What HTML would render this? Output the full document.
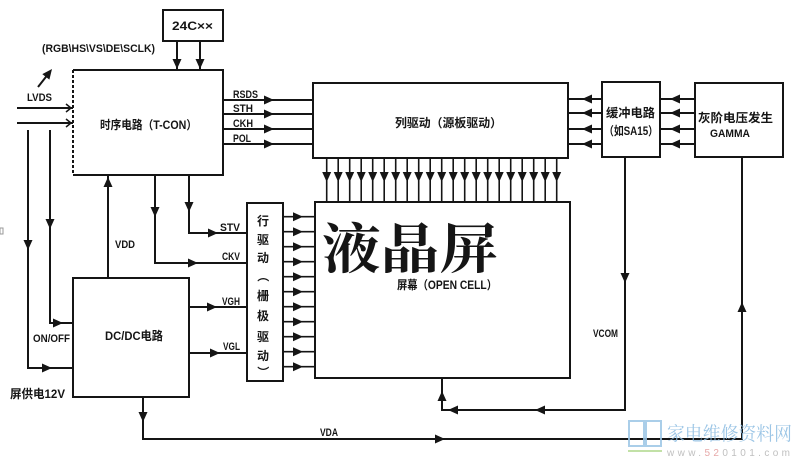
<!DOCTYPE html>
<html><head><meta charset="utf-8"><style>
html,body{margin:0;padding:0;background:#fff;}
svg{display:block;}
text{font-family:"Liberation Sans","Noto Sans CJK SC",sans-serif;fill:#151515;}
.l{font-size:11px;font-weight:bold;}
.c{font-family:"Liberation Sans","Noto Sans CJK SC",sans-serif;font-size:12px;font-weight:bold;}
</style></head><body>
<svg width="800" height="462" viewBox="0 0 800 462" xmlns="http://www.w3.org/2000/svg">
<defs>
<path id="ar" d="M-10,-4.5 L0,0 L-10,4.5 Z" fill="#151515"/>
</defs>
<g stroke="#151515" stroke-width="2" fill="none">
<!-- 24CXX box -->
<rect x="163" y="10" width="60" height="31"/>
<line x1="177" y1="41" x2="177" y2="70"/>
<line x1="200" y1="41" x2="200" y2="70"/>
<!-- T-CON -->
<path d="M73,70 H223 V175 H73"/>
<line x1="73" y1="70" x2="73" y2="175" stroke-dasharray="3,2"/>
<!-- LVDS -->
<line x1="17" y1="108" x2="73" y2="108"/>
<line x1="17" y1="123" x2="73" y2="123"/>
<path d="M66,104 L71,108 L66,112" stroke-width="1.5"/>
<path d="M66,119 L71,123 L66,127" stroke-width="1.5"/>
<line x1="38" y1="87" x2="49" y2="73"/>
<!-- left verticals -->
<path d="M28,130 V368 H73"/>
<path d="M50,130 V323 H73"/>
<!-- outputs RSDS etc -->
<line x1="223" y1="100" x2="313" y2="100"/>
<line x1="223" y1="114" x2="313" y2="114"/>
<line x1="223" y1="129" x2="313" y2="129"/>
<line x1="223" y1="144" x2="313" y2="144"/>
<!-- column driver -->
<rect x="313" y="83" width="255" height="75"/>
<!-- buffer -->
<rect x="602" y="82" width="58" height="75"/>
<!-- gamma -->
<rect x="695" y="83" width="88" height="74"/>
<line x1="568" y1="99" x2="602" y2="99"/>
<line x1="568" y1="113" x2="602" y2="113"/>
<line x1="568" y1="129" x2="602" y2="129"/>
<line x1="568" y1="144" x2="602" y2="144"/>
<line x1="660" y1="99" x2="695" y2="99"/>
<line x1="660" y1="113" x2="695" y2="113"/>
<line x1="660" y1="129" x2="695" y2="129"/>
<line x1="660" y1="144" x2="695" y2="144"/>
<!-- column down lines -->
<g stroke-width="1.6">
<line x1="326.7" y1="158" x2="326.7" y2="202"/><line x1="338.2" y1="158" x2="338.2" y2="202"/><line x1="349.7" y1="158" x2="349.7" y2="202"/><line x1="361.2" y1="158" x2="361.2" y2="202"/><line x1="372.7" y1="158" x2="372.7" y2="202"/><line x1="384.2" y1="158" x2="384.2" y2="202"/><line x1="395.7" y1="158" x2="395.7" y2="202"/><line x1="407.2" y1="158" x2="407.2" y2="202"/><line x1="418.7" y1="158" x2="418.7" y2="202"/><line x1="430.2" y1="158" x2="430.2" y2="202"/><line x1="441.7" y1="158" x2="441.7" y2="202"/><line x1="453.2" y1="158" x2="453.2" y2="202"/><line x1="464.7" y1="158" x2="464.7" y2="202"/><line x1="476.2" y1="158" x2="476.2" y2="202"/><line x1="487.7" y1="158" x2="487.7" y2="202"/><line x1="499.2" y1="158" x2="499.2" y2="202"/><line x1="510.7" y1="158" x2="510.7" y2="202"/><line x1="522.2" y1="158" x2="522.2" y2="202"/><line x1="533.7" y1="158" x2="533.7" y2="202"/><line x1="545.2" y1="158" x2="545.2" y2="202"/><line x1="556.7" y1="158" x2="556.7" y2="202"/>
</g>
<!-- LCD -->
<rect x="315" y="202" width="255" height="176"/>
<!-- row driver -->
<rect x="247" y="203" width="36" height="178"/>
<g stroke-width="1.6">
<line x1="283" y1="216.7" x2="315" y2="216.7"/><line x1="283" y1="231.7" x2="315" y2="231.7"/><line x1="283" y1="246.7" x2="315" y2="246.7"/><line x1="283" y1="261.7" x2="315" y2="261.7"/><line x1="283" y1="276.7" x2="315" y2="276.7"/><line x1="283" y1="291.7" x2="315" y2="291.7"/><line x1="283" y1="306.7" x2="315" y2="306.7"/><line x1="283" y1="321.7" x2="315" y2="321.7"/><line x1="283" y1="336.7" x2="315" y2="336.7"/><line x1="283" y1="351.7" x2="315" y2="351.7"/><line x1="283" y1="366.7" x2="315" y2="366.7"/>
</g>
<!-- T-CON bottom -->
<line x1="108" y1="175" x2="108" y2="278"/>
<path d="M155,175 V263 H247"/>
<path d="M189,175 V233 H247"/>
<!-- DC/DC -->
<rect x="73" y="278" width="116" height="119"/>
<line x1="189" y1="307" x2="247" y2="307"/>
<line x1="189" y1="353" x2="247" y2="353"/>
<!-- VDA -->
<path d="M143,397 V439 H742 V157"/>
<!-- VCOM -->
<path d="M625,157 V410 H442 V378"/>
</g>
<!-- arrowheads -->
<g>
<use href="#ar" transform="translate(177,69) rotate(90)"/>
<use href="#ar" transform="translate(200,69) rotate(90)"/>
<use href="#ar" transform="translate(52,69) rotate(-52)"/>
<use href="#ar" transform="translate(274,100)"/>
<use href="#ar" transform="translate(274,114)"/>
<use href="#ar" transform="translate(274,129)"/>
<use href="#ar" transform="translate(274,144)"/>
<use href="#ar" transform="translate(582,99) rotate(180)"/>
<use href="#ar" transform="translate(582,113) rotate(180)"/>
<use href="#ar" transform="translate(582,129) rotate(180)"/>
<use href="#ar" transform="translate(582,144) rotate(180)"/>
<use href="#ar" transform="translate(670,99) rotate(180)"/>
<use href="#ar" transform="translate(670,113) rotate(180)"/>
<use href="#ar" transform="translate(670,129) rotate(180)"/>
<use href="#ar" transform="translate(670,144) rotate(180)"/>
<use href="#ar" transform="translate(326.7,182) rotate(90)"/><use href="#ar" transform="translate(338.2,182) rotate(90)"/><use href="#ar" transform="translate(349.7,182) rotate(90)"/><use href="#ar" transform="translate(361.2,182) rotate(90)"/><use href="#ar" transform="translate(372.7,182) rotate(90)"/><use href="#ar" transform="translate(384.2,182) rotate(90)"/><use href="#ar" transform="translate(395.7,182) rotate(90)"/><use href="#ar" transform="translate(407.2,182) rotate(90)"/><use href="#ar" transform="translate(418.7,182) rotate(90)"/><use href="#ar" transform="translate(430.2,182) rotate(90)"/><use href="#ar" transform="translate(441.7,182) rotate(90)"/><use href="#ar" transform="translate(453.2,182) rotate(90)"/><use href="#ar" transform="translate(464.7,182) rotate(90)"/><use href="#ar" transform="translate(476.2,182) rotate(90)"/><use href="#ar" transform="translate(487.7,182) rotate(90)"/><use href="#ar" transform="translate(499.2,182) rotate(90)"/><use href="#ar" transform="translate(510.7,182) rotate(90)"/><use href="#ar" transform="translate(522.2,182) rotate(90)"/><use href="#ar" transform="translate(533.7,182) rotate(90)"/><use href="#ar" transform="translate(545.2,182) rotate(90)"/><use href="#ar" transform="translate(556.7,182) rotate(90)"/>
<use href="#ar" transform="translate(303,216.7)"/><use href="#ar" transform="translate(303,231.7)"/><use href="#ar" transform="translate(303,246.7)"/><use href="#ar" transform="translate(303,261.7)"/><use href="#ar" transform="translate(303,276.7)"/><use href="#ar" transform="translate(303,291.7)"/><use href="#ar" transform="translate(303,306.7)"/><use href="#ar" transform="translate(303,321.7)"/><use href="#ar" transform="translate(303,336.7)"/><use href="#ar" transform="translate(303,351.7)"/><use href="#ar" transform="translate(303,366.7)"/>
<use href="#ar" transform="translate(28,250) rotate(90)"/>
<use href="#ar" transform="translate(50,229) rotate(90)"/>
<use href="#ar" transform="translate(63,323)"/>
<use href="#ar" transform="translate(52,368)"/>
<use href="#ar" transform="translate(108,177) rotate(-90)"/>
<use href="#ar" transform="translate(155,217) rotate(90)"/>
<use href="#ar" transform="translate(189,212) rotate(90)"/>
<use href="#ar" transform="translate(218,233)"/>
<use href="#ar" transform="translate(198,263)"/>
<use href="#ar" transform="translate(217,307)"/>
<use href="#ar" transform="translate(220,353)"/>
<use href="#ar" transform="translate(143,422) rotate(90)"/>
<use href="#ar" transform="translate(445,439)"/>
<use href="#ar" transform="translate(742,302) rotate(-90)"/>
<use href="#ar" transform="translate(625,283) rotate(90)"/>
<use href="#ar" transform="translate(535,410) rotate(180)"/>
<use href="#ar" transform="translate(448,410) rotate(180)"/>
<use href="#ar" transform="translate(442,391) rotate(-90)"/>
</g>
<!-- texts -->
<text x="172" y="30" class="c" textLength="41" lengthAdjust="spacingAndGlyphs">24C××</text>
<text x="42" y="52" class="l" textLength="113" lengthAdjust="spacingAndGlyphs">(RGB\HS\VS\DE\SCLK)</text>
<text x="27" y="101" class="l" textLength="25" lengthAdjust="spacingAndGlyphs">LVDS</text>
<text x="100" y="129" class="c" textLength="97" lengthAdjust="spacingAndGlyphs">时序电路（T-CON）</text>
<text x="233" y="98" class="l" textLength="25" lengthAdjust="spacingAndGlyphs">RSDS</text>
<text x="233" y="112" class="l" textLength="20" lengthAdjust="spacingAndGlyphs">STH</text>
<text x="233" y="127" class="l" textLength="20" lengthAdjust="spacingAndGlyphs">CKH</text>
<text x="233" y="142" class="l" textLength="18" lengthAdjust="spacingAndGlyphs">POL</text>
<text x="395" y="127" class="c" font-size="13" textLength="107" lengthAdjust="spacingAndGlyphs">列驱动（源板驱动）</text>
<text x="606" y="117" class="c" textLength="49" lengthAdjust="spacingAndGlyphs">缓冲电路</text>
<text x="604" y="135" class="c" textLength="54" lengthAdjust="spacingAndGlyphs">（如SA15）</text>
<text x="698" y="122" class="c" textLength="75" lengthAdjust="spacingAndGlyphs">灰阶电压发生</text>
<text x="710" y="137" class="l" textLength="40" lengthAdjust="spacingAndGlyphs">GAMMA</text>
<text x="220" y="231" class="l" textLength="20" lengthAdjust="spacingAndGlyphs">STV</text>
<text x="222" y="260" class="l" textLength="18" lengthAdjust="spacingAndGlyphs">CKV</text>
<text x="222" y="305" class="l" textLength="18" lengthAdjust="spacingAndGlyphs">VGH</text>
<text x="223" y="350" class="l" textLength="17" lengthAdjust="spacingAndGlyphs">VGL</text>
<text x="115" y="248" class="l" textLength="20" lengthAdjust="spacingAndGlyphs">VDD</text>
<text x="33" y="342" class="l" textLength="37" lengthAdjust="spacingAndGlyphs">ON/OFF</text>
<text x="10" y="398" class="c" textLength="55" lengthAdjust="spacingAndGlyphs">屏供电12V</text>
<text x="105" y="340" class="c" textLength="58" lengthAdjust="spacingAndGlyphs">DC/DC电路</text>
<g class="c" font-size="13">
<text x="263" y="225" text-anchor="middle" class="c">行</text>
<text x="263" y="244" text-anchor="middle" class="c">驱</text>
<text x="263" y="262" text-anchor="middle" class="c">动</text>
<text x="263" y="280" text-anchor="middle" class="c" transform="rotate(90 263 276)">（</text>
<text x="263" y="300" text-anchor="middle" class="c">栅</text>
<text x="263" y="320" text-anchor="middle" class="c">极</text>
<text x="263" y="341" text-anchor="middle" class="c">驱</text>
<text x="263" y="360" text-anchor="middle" class="c">动</text>
<text x="263" y="376" text-anchor="middle" class="c" transform="rotate(90 263 372)">）</text>
</g>
<text x="322" y="268" style="font-family:'Noto Serif CJK SC','Noto Sans CJK SC',serif;font-size:54px;font-weight:bold;" textLength="176" lengthAdjust="spacingAndGlyphs">液晶屏</text>
<text x="397" y="289" class="c" textLength="100" lengthAdjust="spacingAndGlyphs">屏幕（OPEN CELL）</text>
<text x="593" y="337" class="l" textLength="25" lengthAdjust="spacingAndGlyphs">VCOM</text>
<text x="320" y="436" class="l" textLength="18" lengthAdjust="spacingAndGlyphs">VDA</text>
<!-- left mark -->
<rect x="0" y="228" width="3" height="6" fill="none" stroke="#999" stroke-width="1"/>
<!-- watermark -->
<g opacity="0.85">
<path d="M629,421 H644 V446 H629 Z M646,421 H661 V446 H646 Z" fill="none" stroke="#9cc6e6" stroke-width="2"/>
<line x1="628" y1="451" x2="662" y2="451" stroke="#b8dc98" stroke-width="2"/>
<text x="667" y="440" style="font-family:'Noto Serif CJK SC','Noto Sans CJK SC',serif;font-size:19px;fill:#8dbde2;" textLength="125" lengthAdjust="spacingAndGlyphs">家电维修资料网</text>
<text x="667" y="456" style="font-size:10px;fill:#b5b5b5;" textLength="123" lengthAdjust="spacing">www.<tspan style="fill:#e39a9a">52</tspan>0101.com</text>
</g>
</svg>
</body></html>
